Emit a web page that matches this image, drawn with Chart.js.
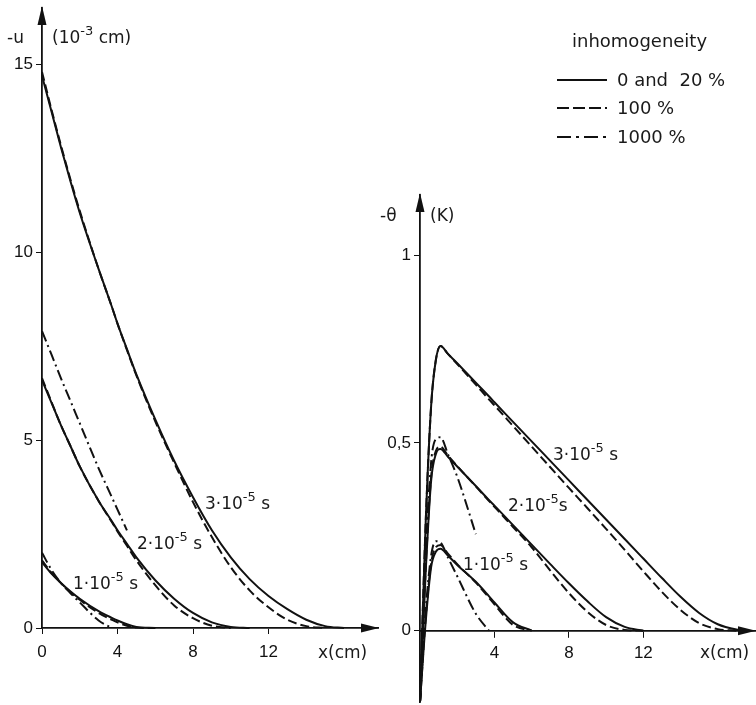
<!DOCTYPE html>
<html>
<head>
<meta charset="utf-8">
<script src="https://cdn.jsdelivr.net/npm/chart.js@4/dist/chart.umd.min.js"></script>
<style>
  body { margin: 0; background: #fff; }
  #wrap { position: relative; width: 756px; height: 705px; font-family: "DejaVu Sans", sans-serif; color: #1a1a1a; }
  canvas { position: absolute; top: 0; }
  .t { position: absolute; font-size: 17px; line-height: 18px; white-space: nowrap; }
  .lg { font-size: 18px; }
  .s { position: relative; top: -8px; font-size: 13px; }
</style>
</head>
<body>
<div id="wrap">
  <canvas id="left" width="380" height="705" style="left:0"></canvas>
  <canvas id="right" width="376" height="705" style="left:380px"></canvas>

  <div class="t" style="left:7px;top:28px">-u</div>
  <div class="t" style="left:52px;top:28px">(10<span class="s">-3</span> cm)</div>
  <div class="t" style="left:318px;top:643px">x(cm)</div>
  <div class="t" style="left:205px;top:494px">3·10<span class="s">-5</span> s</div>
  <div class="t" style="left:137px;top:534px">2·10<span class="s">-5</span> s</div>
  <div class="t" style="left:73px;top:574px">1·10<span class="s">-5</span> s</div>

  <div class="t" style="left:380px;top:206px">-θ</div>
  <div class="t" style="left:430px;top:206px">(K)</div>
  <div class="t" style="left:700px;top:643px">x(cm)</div>
  <div class="t" style="left:553px;top:445px">3·10<span class="s">-5</span> s</div>
  <div class="t" style="left:508px;top:496px">2·10<span class="s">-5</span>s</div>
  <div class="t" style="left:463px;top:555px">1·10<span class="s">-5</span> s</div>

  <div class="t lg" style="left:572px;top:32px">inhomogeneity</div>
  <svg style="position:absolute;left:0;top:0" width="756" height="160">
    <line x1="557" y1="80" x2="607" y2="80" stroke="#111" stroke-width="2"/>
    <line x1="557" y1="108" x2="607" y2="108" stroke="#111" stroke-width="2" stroke-dasharray="12 4"/>
    <line x1="557" y1="137" x2="607" y2="137" stroke="#111" stroke-width="2" stroke-dasharray="14 5 3 5"/>
  </svg>
  <div class="t lg" style="left:617px;top:71px">0 and&nbsp; 20 %</div>
  <div class="t lg" style="left:617px;top:99px">100 %</div>
  <div class="t lg" style="left:617px;top:128px">1000 %</div>
</div>

<script>
// legend names
const inhomogeneity = ['0 and 20 %', '100 %', '1000 %'];

// left panel: -u (10^-3 cm) against x (cm)
const xU = [0, 0.5, 1, 1.5, 2, 3, 3.7, 4, 4.5, 5, 6, 7, 8, 9, 10, 11, 12, 13, 14, 15, 16];
const uSolid1 = [1.75, 1.45, 1.2, 0.98, 0.78, 0.45, 0.27, 0.2, 0.1, 0.03, 0, null, null, null, null, null, null, null, null, null, null];
const uDash1  = [1.8, 1.47, 1.2, 0.96, 0.75, 0.4, 0.22, 0.15, 0.06, 0.01, 0, null, null, null, null, null, null, null, null, null, null];
const uDot1   = [2.0, 1.55, 1.2, 0.93, 0.68, 0.2, 0, null, null, null, null, null, null, null, null, null, null, null, null, null, null];
const uSolid2 = [6.6, 6.0, 5.4, 4.85, 4.3, 3.38, 2.84, 2.6, 2.24, 1.88, 1.27, 0.78, 0.4, 0.15, 0.03, 0, null, null, null, null, null];
const uDash2  = [6.65, 6.02, 5.4, 4.85, 4.3, 3.38, 2.82, 2.57, 2.19, 1.8, 1.14, 0.6, 0.26, 0.06, 0, null, null, null, null, null, null];
const uDot2   = [7.9, 7.28, 6.65, 6.05, 5.45, 4.25, 3.48, 3.15, 2.6, null, null, null, null, null, null, null, null, null, null, null, null];
const uSolid3 = [14.7, 13.75, 12.8, 11.9, 11.05, 9.55, 8.55, 8.1, 7.42, 6.75, 5.55, 4.45, 3.48, 2.6, 1.88, 1.3, 0.85, 0.5, 0.22, 0.05, 0];
const uDash3  = [14.8, 13.8, 12.85, 11.95, 11.1, 9.55, 8.55, 8.1, 7.4, 6.72, 5.5, 4.4, 3.35, 2.42, 1.62, 1.0, 0.55, 0.22, 0.05, 0, null];
const uTicks = [0, 5, 10, 15];
const xTicksU = [0, 4, 8, 12];

// right panel: -theta (K) against x (cm)
const xT = [0, 0.3, 0.6, 0.85, 1.1, 1.5, 2, 3, 3.7, 4, 5, 6, 7, 8, 9, 10, 11, 12, 13, 14, 15, 16, 17, 17.5];
const tSolid1 = [-0.19, 0.02, 0.17, 0.21, 0.218, 0.2, 0.175, 0.13, 0.092, 0.075, 0.022, 0, null, null, null, null, null, null, null, null, null, null, null, null];
const tDash1  = [-0.19, 0.03, 0.18, 0.222, 0.228, 0.205, 0.177, 0.128, 0.088, 0.07, 0.015, 0, null, null, null, null, null, null, null, null, null, null, null, null];
const tDot1   = [-0.19, 0.05, 0.2, 0.238, 0.235, 0.195, 0.145, 0.045, 0, null, null, null, null, null, null, null, null, null, null, null, null, null, null, null];
const tSolid2 = [-0.19, 0.15, 0.4, 0.47, 0.484, 0.463, 0.437, 0.385, 0.348, 0.333, 0.281, 0.229, 0.177, 0.126, 0.078, 0.036, 0.01, 0, null, null, null, null, null, null];
const tDash2  = [-0.19, 0.16, 0.41, 0.478, 0.49, 0.466, 0.438, 0.384, 0.346, 0.33, 0.276, 0.222, 0.16, 0.1, 0.05, 0.015, 0.002, 0, null, null, null, null, null, null];
const tDot2   = [-0.19, 0.2, 0.45, 0.51, 0.515, 0.47, 0.41, 0.257, null, null, null, null, null, null, null, null, null, null, null, null, null, null, null, null];
const tSolid3 = [-0.19, 0.28, 0.6, 0.72, 0.758, 0.737, 0.712, 0.66, 0.624, 0.608, 0.556, 0.504, 0.452, 0.4, 0.348, 0.296, 0.244, 0.192, 0.14, 0.09, 0.047, 0.017, 0.003, 0];
const tDash3  = [-0.19, 0.28, 0.6, 0.72, 0.758, 0.737, 0.71, 0.655, 0.616, 0.6, 0.545, 0.49, 0.435, 0.38, 0.326, 0.271, 0.215, 0.158, 0.103, 0.055, 0.02, 0.004, 0, null];
const thetaTicks = [0, 0.5, 1];
const thetaTickLabels = ['0', '0,5', '1'];
const xTicksT = [4, 8, 12];

const ink = '#111';
const tickFont = { family: 'Liberation Sans', size: 17 };
const dashes = { solid: [], dashed: [9, 4], dashdot: [11, 4, 2, 4] };

function line(xs, ys, dash) {
  return {
    data: xs.map((x, i) => ({ x: x, y: ys[i] })),
    borderColor: ink,
    borderWidth: 2,
    borderDash: dash,
    pointRadius: 0,
    cubicInterpolationMode: 'monotone',
    spanGaps: false,
    clip: false
  };
}

// arrow heads at the ends of both axes
const arrows = {
  id: 'arrows',
  afterDraw(chart) {
    const ctx = chart.ctx, a = chart.chartArea;
    const axisY = chart.scales.y.getPixelForValue(0);
    ctx.save();
    ctx.fillStyle = ink;
    ctx.beginPath();
    ctx.moveTo(a.left, a.top - 2);
    ctx.lineTo(a.left - 4.5, a.top + 17);
    ctx.lineTo(a.left + 4.5, a.top + 17);
    ctx.fill();
    ctx.beginPath();
    ctx.moveTo(a.right + 1, axisY);
    ctx.lineTo(a.right - 17, axisY - 4.5);
    ctx.lineTo(a.right - 17, axisY + 4.5);
    ctx.fill();
    ctx.restore();
  }
};

// keep the plot area exactly where the layout padding puts it
function noPad(s) {
  s.paddingTop = 0; s.paddingBottom = 0; s.paddingLeft = 0; s.paddingRight = 0;
}

function axis(extra) {
  return Object.assign({
    type: 'linear',
    grid: { drawOnChartArea: false, drawTicks: true, tickLength: 6, color: ink, lineWidth: 1 },
    border: { color: ink, width: 1.8 }
  }, extra);
}

new Chart(document.getElementById('left'), {
  type: 'line',
  data: {
    datasets: [
      line(xU, uSolid1, dashes.solid), line(xU, uDash1, dashes.dashed), line(xU, uDot1, dashes.dashdot),
      line(xU, uSolid2, dashes.solid), line(xU, uDash2, dashes.dashed), line(xU, uDot2, dashes.dashdot),
      line(xU, uSolid3, dashes.solid), line(xU, uDash3, dashes.dashed)
    ]
  },
  options: {
    responsive: false,
    animation: false,
    layout: { padding: { top: 8, right: 2 } },
    plugins: { legend: { display: false }, tooltip: { enabled: false } },
    scales: {
      x: axis({
        min: 0, max: 17.8, position: 'bottom',
        afterFit: s => { s.height = 77; noPad(s); },
        afterBuildTicks: s => { s.ticks = xTicksU.map(v => ({ value: v })); },
        ticks: { color: ink, font: tickFont, autoSkip: false, maxRotation: 0, padding: 8, callback: v => String(v) }
      }),
      y: axis({
        min: 0, max: 16.5, position: 'left',
        afterFit: s => { s.width = 42; noPad(s); },
        afterBuildTicks: s => { s.ticks = uTicks.map(v => ({ value: v })); },
        ticks: { color: ink, font: tickFont, autoSkip: false, padding: 3, callback: v => String(v) }
      })
    }
  },
  plugins: [arrows]
});

new Chart(document.getElementById('right'), {
  type: 'line',
  data: {
    datasets: [
      line(xT, tSolid1, dashes.solid), line(xT, tDash1, dashes.dashed), line(xT, tDot1, dashes.dashdot),
      line(xT, tSolid2, dashes.solid), line(xT, tDash2, dashes.dashed), line(xT, tDot2, dashes.dashdot),
      line(xT, tSolid3, dashes.solid), line(xT, tDash3, dashes.dashed)
    ]
  },
  options: {
    responsive: false,
    animation: false,
    layout: { padding: { top: 195, bottom: 3, right: 1 } },
    plugins: { legend: { display: false }, tooltip: { enabled: false } },
    scales: {
      x: axis({
        min: 0, max: 18, position: { y: 0 },
        afterFit: s => { noPad(s); },
        afterBuildTicks: s => { s.ticks = xTicksT.map(v => ({ value: v })); },
        ticks: { color: ink, font: tickFont, autoSkip: false, maxRotation: 0, padding: 6, callback: v => String(v) }
      }),
      y: axis({
        min: -0.19, max: 1.16, position: 'left',
        afterFit: s => { s.width = 40; noPad(s); },
        afterBuildTicks: s => { s.ticks = thetaTicks.map(v => ({ value: v })); },
        ticks: { color: ink, font: tickFont, autoSkip: false, padding: 3,
                 callback: v => thetaTickLabels[thetaTicks.indexOf(v)] }
      })
    }
  },
  plugins: [arrows]
});
</script>
</body>
</html>
